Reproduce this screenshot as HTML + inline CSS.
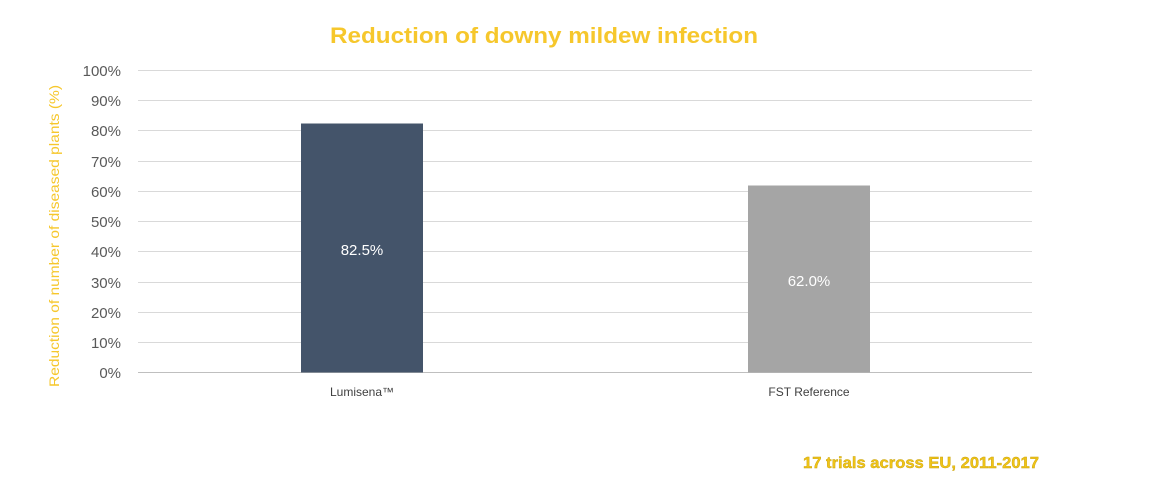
<!DOCTYPE html>
<html><head><meta charset="utf-8"><style>
html,body{margin:0;padding:0;background:#fff;}
svg{display:block;font-family:"Liberation Sans",sans-serif;}
</style></head><body>
<svg width="1152" height="501" viewBox="0 0 1152 501">
<rect width="1152" height="501" fill="#fff"/>
<text x="544" y="43" text-anchor="middle" font-size="22" font-weight="bold" fill="#f6c72c" textLength="428" lengthAdjust="spacingAndGlyphs">Reduction of downy mildew infection</text>
<g stroke="#d9d9d9" stroke-width="1">
<line x1="138" x2="1032" y1="70.5" y2="70.5"/>
<line x1="138" x2="1032" y1="100.5" y2="100.5"/>
<line x1="138" x2="1032" y1="130.5" y2="130.5"/>
<line x1="138" x2="1032" y1="161.5" y2="161.5"/>
<line x1="138" x2="1032" y1="191.5" y2="191.5"/>
<line x1="138" x2="1032" y1="221.5" y2="221.5"/>
<line x1="138" x2="1032" y1="251.5" y2="251.5"/>
<line x1="138" x2="1032" y1="282.5" y2="282.5"/>
<line x1="138" x2="1032" y1="312.5" y2="312.5"/>
<line x1="138" x2="1032" y1="342.5" y2="342.5"/>
</g>
<line x1="138" x2="1032" y1="372.5" y2="372.5" stroke="#bfbfbf"/>
<g font-size="15" fill="#595959" text-anchor="end">
<text x="121" y="76">100%</text>
<text x="121" y="106">90%</text>
<text x="121" y="136">80%</text>
<text x="121" y="167">70%</text>
<text x="121" y="197">60%</text>
<text x="121" y="227">50%</text>
<text x="121" y="257">40%</text>
<text x="121" y="288">30%</text>
<text x="121" y="318">20%</text>
<text x="121" y="348">10%</text>
<text x="121" y="378">0%</text>
</g>
<text transform="translate(59,236) rotate(-90)" text-anchor="middle" font-size="14" fill="#f6c72c" textLength="302" lengthAdjust="spacingAndGlyphs">Reduction of number of diseased plants (%)</text>
<rect x="301" y="123.5" width="122" height="249" fill="#44546a"/>
<rect x="748" y="185.5" width="122" height="187" fill="#a5a5a5"/>
<text x="362" y="255" text-anchor="middle" font-size="15" fill="#fff">82.5%</text>
<text x="809" y="286" text-anchor="middle" font-size="15" fill="#fff">62.0%</text>
<text x="362" y="396" text-anchor="middle" font-size="12" fill="#404040">Lumisena™</text>
<text x="809" y="396" text-anchor="middle" font-size="12" fill="#404040">FST Reference</text>
<text x="921" y="468" text-anchor="middle" font-size="16" font-weight="bold" fill="#f0c418" stroke="#c9a20a" stroke-width="0.4" textLength="236" lengthAdjust="spacingAndGlyphs">17 trials across EU, 2011-2017</text>
</svg>
</body></html>
